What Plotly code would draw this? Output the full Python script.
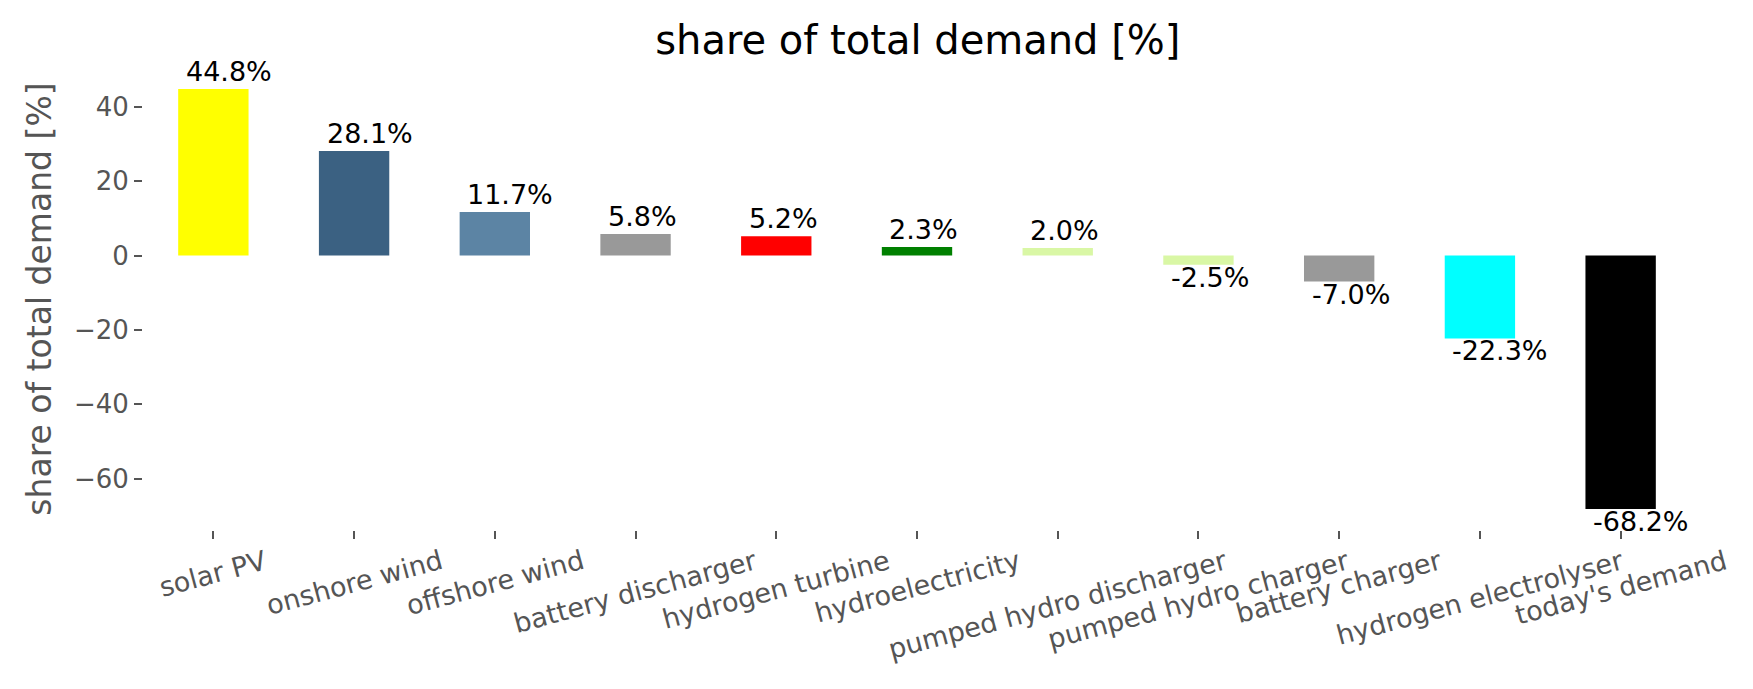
import plotly.graph_objects as go

categories = ["solar PV", "onshore wind", "offshore wind", "battery discharger",
              "hydrogen turbine", "hydroelectricity", "pumped hydro discharger",
              "pumped hydro charger", "battery charger", "hydrogen electrolyser",
              "today's demand"]
shares = [44.8, 28.1, 11.7, 5.8, 5.2, 2.3, 2.0, -2.5, -7.0, -22.3, -68.2]
bar_colors = ["#ffff00", "#3b6182", "#5c84a4", "#999999", "#ff0000", "#008000",
              "#d9f7a5", "#d9f7a5", "#999999", "#00ffff", "#000000"]

FONT = "DejaVu Sans"
GREY = "#555555"

pos = list(range(len(categories)))

fig = go.Figure()
fig.add_trace(go.Bar(
    x=pos, y=shares, width=0.5,
    marker=dict(color=bar_colors, line=dict(width=0)),
    showlegend=False, hoverinfo="skip",
))

# value labels, left aligned near the bar's left edge
for p, v in zip(pos, shares):
    fig.add_annotation(x=p - 0.21, y=v, xref="x", yref="y", text="%.1f%%" % v,
                       showarrow=False, xanchor="left",
                       yanchor="bottom" if v >= 0 else "top",
                       yshift=0 if v >= 0 else 5,
                       font=dict(family=FONT, size=27, color="black"))

# rotated category labels, centred on the tick like matplotlib
for p, c in zip(pos, categories):
    fig.add_annotation(x=p, y=-0.025, xref="x", yref="paper", text=c,
                       showarrow=False, textangle=-15, xanchor="center", yanchor="top",
                       font=dict(family=FONT, size=27, color=GREY))

fig.update_layout(
    width=1753, height=689,
    margin=dict(l=135, r=70, t=60, b=167),
    plot_bgcolor="white", paper_bgcolor="white",
    font=dict(family=FONT, color=GREY),
    title=dict(text="share of total demand [%]", x=0.519, xanchor="center",
               y=1 - 32 / 689, yanchor="middle", yref="container",
               font=dict(family=FONT, size=40, color="black")),
)
fig.update_xaxes(range=[-0.5, 10.5], tickvals=pos, showticklabels=False,
                 ticks="outside", ticklen=8, tickwidth=1.5, tickcolor=GREY,
                 showgrid=False, zeroline=False, showline=False)
fig.update_yaxes(range=[-73.85, 50.45], tickvals=[-60, -40, -20, 0, 20, 40],
                 ticktext=["\u221260", "\u221240", "\u221220", "0", "20", "40"],
                 ticks="outside", ticklen=8, tickwidth=1.5, tickcolor=GREY,
                 tickfont=dict(family=FONT, size=26, color=GREY),
                 title=dict(text="share of total demand [%]", standoff=12,
                            font=dict(family=FONT, size=33, color=GREY)),
                 showgrid=False, zeroline=False, showline=False)

fig.write_html("out.html")
